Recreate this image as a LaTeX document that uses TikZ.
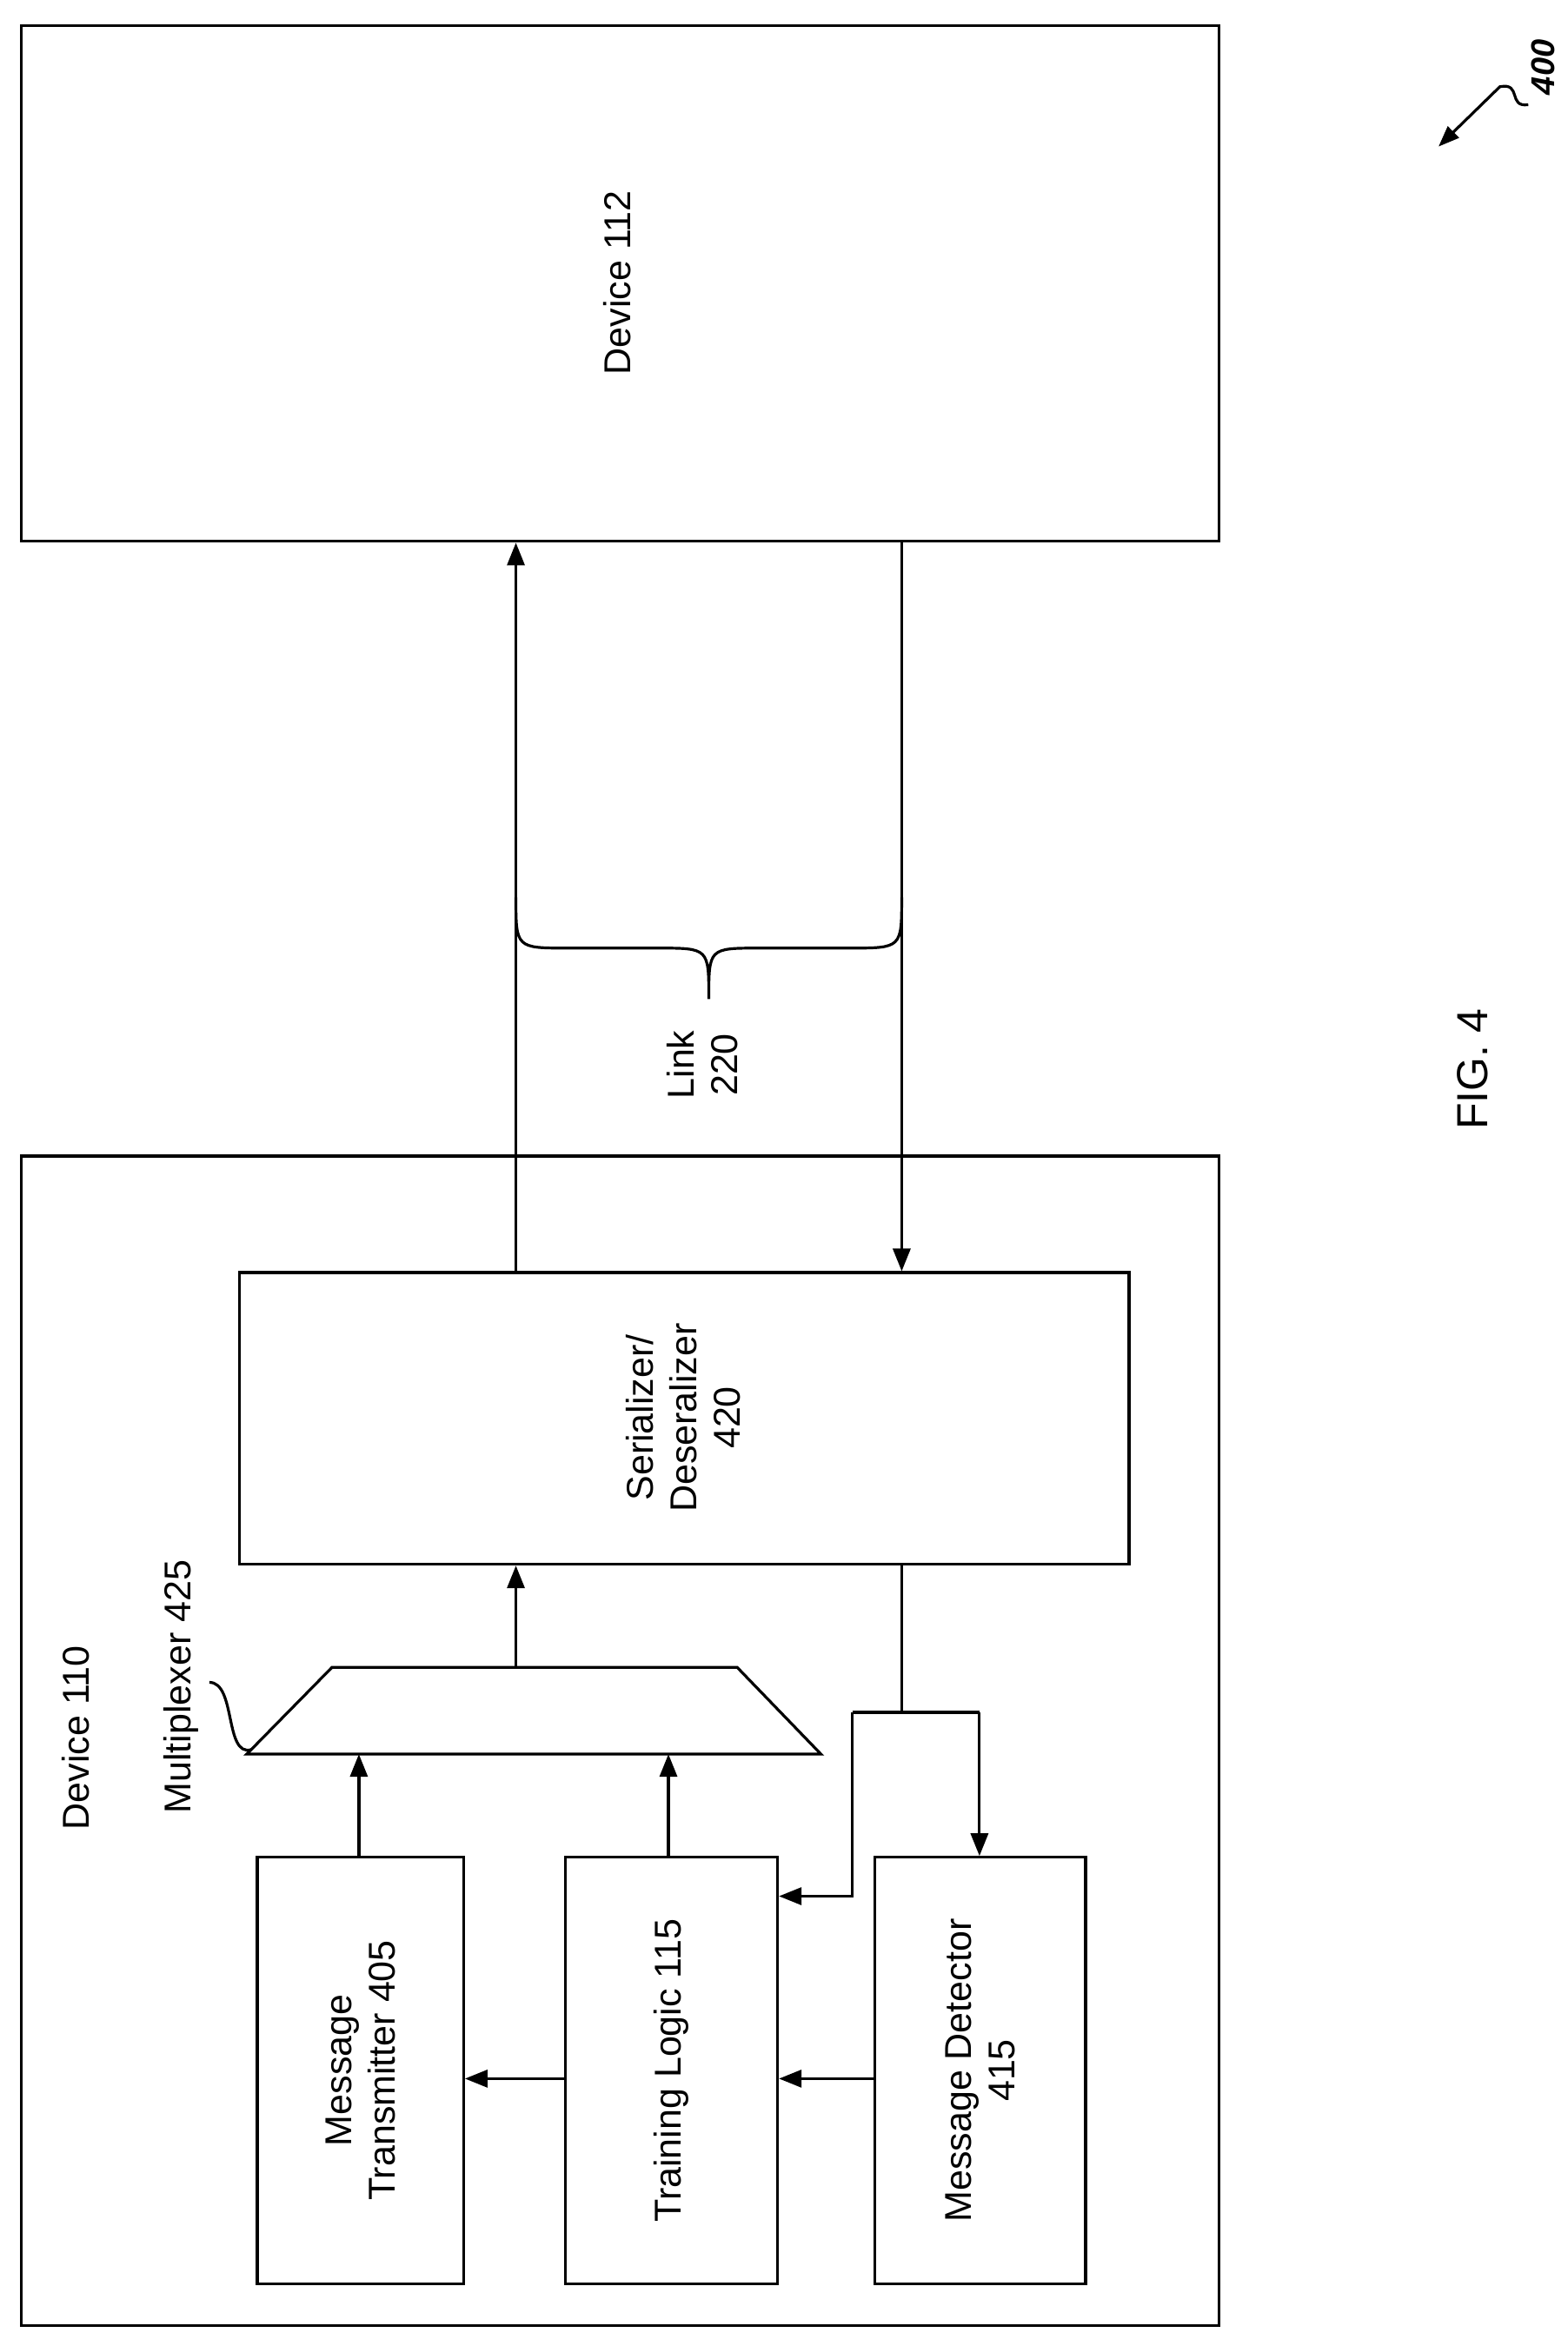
\documentclass[tikz,border=0pt]{standalone}
\usepackage{fontspec}
\setmainfont{Liberation Sans}
\usetikzlibrary{arrows.meta}
\begin{document}
\begin{tikzpicture}[x=1.7204pt,y=-1.7204pt,
  ln/.style={line width=3.2pt},
  arr/.style={ln,-{Triangle[length=26pt,width=20pt]}},
  box/.style={draw,ln,rectangle,inner sep=0pt},
  txt/.style={rotate=90,font=\fontsize{43}{50}\selectfont,align=center}]
\useasboundingbox (0,0) rectangle (1048,1568.8);
\node[box,minimum width=1378pt,minimum height=593.5pt] (d112) at (414.5,189.5) {};
\node[txt] (d112t) at (413,189) {Device 112};
\node[box,minimum width=1378pt,minimum height=1345.3pt] (d110) at (414.5,1164) {};
\node[txt,anchor=south] (d110t) at (62,1162) {Device 110};
\node[box,minimum width=1023.6pt,minimum height=335.5pt] (ser) at (457.5,948.5) {};
\node[txt] at (457,948) {Serializer/\\Deseralizer\\420};
\node[box,minimum width=237.4pt,minimum height=490.3pt] (mt) at (241,1384.5) {};
\node[txt] at (241,1384.5) {Message\\Transmitter 405};
\node[box,minimum width=244.3pt,minimum height=490.3pt] (tl) at (449,1384.5) {};
\node[txt] at (449,1384.5) {Training Logic 115};
\node[box,minimum width=242.6pt,minimum height=490.3pt] (md) at (655.5,1384.5) {};
\node[txt] at (655.5,1384.5) {Message Detector\\415};
% multiplexer
\coordinate (muxtl) at (222,1115); \coordinate (muxtr) at (493,1115);
\coordinate (muxbr) at (549,1173); \coordinate (muxbl) at (165,1173);
\draw[ln,line join=miter] (muxtl) -- (muxtr) -- (muxbr) -- (muxbl) -- cycle;
\node[txt,anchor=south] (muxt) at (135,1128) {Multiplexer 425};
\draw[ln] (140,1125) .. controls (158,1125) and (150,1175) .. (168,1170);
\coordinate (c345) at (345,0); \coordinate (c603) at (603,0);
\coordinate (c240) at (240,0); \coordinate (c447) at (447,0);
\draw[arr] (c345 |- ser.north) -- (c345 |- d112.south);
\draw[arr] (c603 |- d112.south) -- (c603 |- ser.north);
\draw[arr] (c345 |- muxtl) -- (c345 |- ser.south);
\draw[arr] (c240 |- mt.north) -- (c240 |- muxbl);
\draw[arr] (c447 |- tl.north) -- (c447 |- muxbl);
\coordinate (j1) at (603,1145); \coordinate (jl) at (570,1145); \coordinate (jr) at (655,1145);
\draw[ln] (c603 |- ser.south) -- (j1);
\draw[ln] (jl) -- (jr);
\draw[arr] (jr) -- (jr |- md.north);
\coordinate (jl2) at (570,1268);
\draw[arr] (jl) -- (jl2) -- (jl2 -| tl.east);
\coordinate (h) at (0,1390);
\draw[arr] (h -| tl.west) -- (h -| mt.east);
\draw[arr] (h -| md.west) -- (h -| tl.east);
% brace
\draw[ln] (345,600) .. controls (345,634) and (345,634) .. (380,634) -- (440,634) .. controls (474,634) .. (474,668) .. controls (474,634) .. (508,634) -- (568,634) .. controls (603,634) and (603,634) .. (603,600);
\node[txt] (link) at (470,712) {Link\\220};
\node[rotate=90,font=\fontsize{50}{60}\selectfont] (fig) at (985,715) {FIG. 4};
\node[rotate=90,font=\fontsize{38}{44}\selectfont\bfseries\itshape] (n400) at (1032,45) {400};
\draw[ln,-{Triangle[length=24pt,width=18pt]}] (1022,70) .. controls (1008,72) and (1018,55) .. (1003,58) -- (962,98);
\end{tikzpicture}
\end{document}
